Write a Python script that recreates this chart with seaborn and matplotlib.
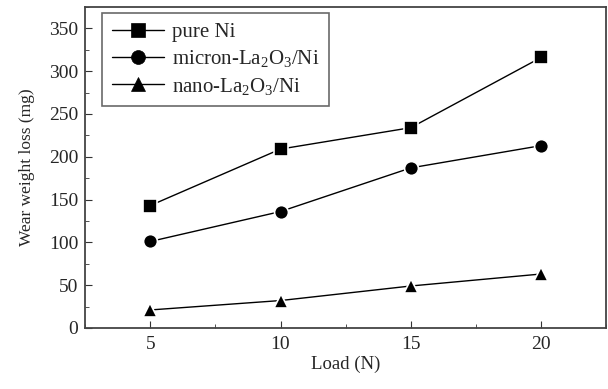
import numpy as np
import pandas as pd
import matplotlib
matplotlib.use("Agg")
import matplotlib.pyplot as plt
import seaborn as sns
from matplotlib.ticker import MultipleLocator

# data
load = [5, 10, 15, 20]
pure_ni = [143, 209, 234, 316]
micron_la2o3 = [101, 136, 187, 213]
nano_la2o3 = [21, 32, 49, 63]
series_names = ["pure Ni", r"micron-La$_2$O$_3$/Ni", r"nano-La$_2$O$_3$/Ni"]

df = pd.DataFrame({
    "Load": load * 3,
    "Loss": pure_ni + micron_la2o3 + nano_la2o3,
    "Sample": [series_names[0]] * 4 + [series_names[1]] * 4 + [series_names[2]] * 4,
})

sns.set_style("ticks")
plt.rcParams["font.family"] = ["Liberation Serif", "DejaVu Serif"]
plt.rcParams["mathtext.fontset"] = "custom"
plt.rcParams["mathtext.rm"] = "Liberation Serif"
plt.rcParams["mathtext.it"] = "Liberation Serif"

fig = plt.figure(figsize=(6.08, 3.89), dpi=100)
ax = fig.add_axes([0.14, 0.157, 0.857, 0.825])

# white marker edge leaves the small gap between line and marker
sns.lineplot(data=df, x="Load", y="Loss", hue="Sample", style="Sample",
             markers=["s", "o", "^"], dashes=False, palette=["black"] * 3,
             markersize=10, linewidth=1.0, markeredgecolor="white",
             markeredgewidth=1.2, ax=ax)

ax.set_xlim(2.5, 22.5)
ax.set_ylim(0, 375)
ax.set_xticks(load)
ax.xaxis.set_minor_locator(MultipleLocator(2.5))
ax.yaxis.set_major_locator(MultipleLocator(50))
ax.yaxis.set_minor_locator(MultipleLocator(25))
ax.tick_params(which="both", direction="in", labelsize=14, color="#333333")
ax.tick_params(which="major", length=5)
ax.tick_params(which="minor", length=3)
ax.tick_params(axis="x", pad=6)
ax.tick_params(axis="y", pad=5)
for s in ax.spines.values():
    s.set_linewidth(1.3)
    s.set_color("#444444")

ax.set_xlabel("Load (N)", fontsize=13.5, labelpad=2)
ax.set_ylabel("Wear weight loss (mg)", fontsize=12.5, labelpad=10)

leg = ax.legend(loc="upper left", bbox_to_anchor=(0.033, 0.981), fontsize=15,
                frameon=True, fancybox=False, edgecolor="#444444",
                borderpad=0.45, handlelength=2.5, handletextpad=0.4,
                labelspacing=0.3, borderaxespad=0)
leg.get_frame().set_linewidth(1.2)
for h in leg.legend_handles:
    h.set_markeredgecolor("black")
    h.set_markeredgewidth(0.5)
    h.set_markersize(10)

fig.savefig("out.png", dpi=100)
